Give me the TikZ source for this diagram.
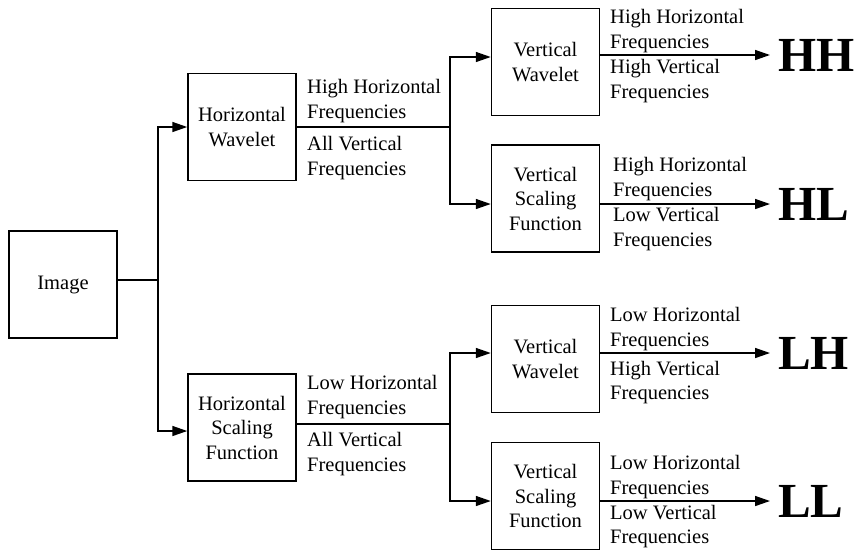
\documentclass[tikz,border=0pt]{standalone}
\usepackage{fontspec}
\setmainfont{Liberation Serif}
\usetikzlibrary{arrows.meta,calc}
\begin{document}
\begin{tikzpicture}[x=1pt,y={(0pt,-1pt)},
  txt/.style={font=\fontsize{20.5}{24.5}\selectfont},
  box/.style={draw, line width=1.5pt, minimum width=108pt, minimum height=107pt, inner sep=0pt, align=center, txt},
  lab/.style={inner sep=0pt, align=left, txt},
  big/.style={font=\fontsize{49}{49}\selectfont\bfseries, inner xsep=8pt, inner ysep=0pt, anchor=west},
  ln/.style={line width=1.5pt},
  arr/.style={line width=1.5pt, -{Triangle[length=15pt,width=10pt]}}]
\fill[white] (0,0) rectangle (856,550);
\useasboundingbox (0,0) rectangle (856,550);

% boxes
\node[box] (img) at (63,284.5) {Image};
\node[box] (hw) at (242,127) {Horizontal\\Wavelet};
\node[box] (hs) at (242,427.5) {Horizontal\\Scaling\\Function};
\node[box] (vw1) at (545.5,62) {Vertical\\Wavelet};
\node[box] (vs1) at (545.5,198.5) {Vertical\\Scaling\\Function};
\node[box] (vw2) at (545.5,359) {Vertical\\Wavelet};
\node[box] (vs2) at (545.5,496) {Vertical\\Scaling\\Function};

% outputs
\node[big] (HH) at (770,55) {HH};
\node[big] (HL) at (770,204) {HL};
\node[big] (LH) at (770,353) {LH};
\node[big] (LL) at (770,501) {LL};

% junctions
\coordinate (b0) at (158,280);
\coordinate (b1) at (450,127);
\coordinate (b2) at (450,424);

% connectors
\draw[ln] (img.east |- b0) -- (b0);
\draw[arr] (b0) |- (hw.west);
\draw[arr] (b0) |- ([yshift=-3.5pt]hs.west);
\draw[ln] (hw.east) -- (b1);
\draw[arr] (b1) |- ([yshift=5pt]vw1.west);
\draw[arr] (b1) |- ([yshift=-5.5pt]vs1.west);
\draw[ln] ([yshift=3.5pt]hs.east) -- (b2);
\draw[arr] (b2) |- ([yshift=6pt]vw2.west);
\draw[arr] (b2) |- ([yshift=-5pt]vs2.west);
\draw[arr] ([yshift=7pt]vw1.east) -- (HH.west);
\draw[arr] ([yshift=-5.5pt]vs1.east) -- (HL.west);
\draw[arr] ([yshift=6pt]vw2.east) -- (LH.west);
\draw[arr] ([yshift=-5pt]vs2.east) -- (LL.west);

% labels
\node[lab, anchor=south west] (l1a) at (307,123) {High Horizontal\\Frequencies};
\node[lab, anchor=north west] (l1b) at (307,136.5) {All Vertical\\Frequencies};
\node[lab, anchor=south west] (l2a) at (307,419) {Low Horizontal\\Frequencies};
\node[lab, anchor=north west] (l2b) at (307,432.5) {All Vertical\\Frequencies};
\node[lab, anchor=south west] (l3a) at (610,53) {High Horizontal\\Frequencies};
\node[lab, anchor=north west] (l3b) at (610,59.5) {High Vertical\\Frequencies};
\node[lab, anchor=south west] (l4a) at (613,201) {High Horizontal\\Frequencies};
\node[lab, anchor=north west] (l4b) at (613,207.5) {Low Vertical\\Frequencies};
\node[lab, anchor=south west] (l5a) at (610,351) {Low Horizontal\\Frequencies};
\node[lab, anchor=north west] (l5b) at (610,361) {High Vertical\\Frequencies};
\node[lab, anchor=south west] (l6a) at (610,499) {Low Horizontal\\Frequencies};
\node[lab, anchor=north west] (l6b) at (610,505) {Low Vertical\\Frequencies};
\end{tikzpicture}
\end{document}
